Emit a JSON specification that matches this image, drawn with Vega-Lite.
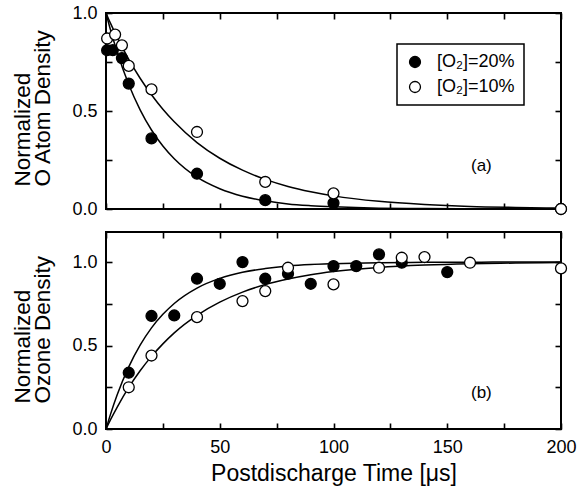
{
  "$schema": "https://vega.github.io/schema/vega-lite/v6.json",
  "padding": {"left": 10, "top": 3, "right": 18, "bottom": 5},
  "spacing": 11,
  "config": {
    "font": "Liberation Sans",
    "view": {"stroke": "black", "strokeWidth": 2},
    "axis": {
      "domain": false, "labelFlush": false, "ticks": true,
      "tickColor": "black", "tickWidth": 1.6, "tickSize": 6, "offset": -6, "tickOpacity": 1,
      "labelFontSize": 18, "labelColor": "black", "labelFont": "Liberation Sans",
      "titleFontSize": 22.5, "titleFontWeight": "normal", "titleColor": "black", "titleFont": "Liberation Sans",
      "grid": false, "labelPadding": 9
    },
    "legend": {
      "orient": "none", "legendX": 291, "legendY": 31,
      "strokeColor": "black", "strokeWidth": 1.5, "padding": 9, "rowPadding": 7,
      "labelFontSize": 18, "labelColor": "black", "labelFont": "Liberation Sans", "labelOffset": 13,
      "symbolType": "circle", "symbolSize": 120, "symbolStrokeColor": "black", "symbolStrokeWidth": 1.3
    }
  },
  "datasets": {
    "oPoints": [
      {"series": "[O₂]=20%", "t": 0.5, "v": 0.81},
      {"series": "[O₂]=20%", "t": 3, "v": 0.81},
      {"series": "[O₂]=20%", "t": 7, "v": 0.77},
      {"series": "[O₂]=20%", "t": 10, "v": 0.64},
      {"series": "[O₂]=20%", "t": 20, "v": 0.36},
      {"series": "[O₂]=20%", "t": 40, "v": 0.18},
      {"series": "[O₂]=20%", "t": 70, "v": 0.045},
      {"series": "[O₂]=20%", "t": 100, "v": 0.03},
      {"series": "[O₂]=20%", "t": 200, "v": 0.0},
      {"series": "[O₂]=10%", "t": 0.5, "v": 0.87},
      {"series": "[O₂]=10%", "t": 4, "v": 0.89},
      {"series": "[O₂]=10%", "t": 7, "v": 0.835},
      {"series": "[O₂]=10%", "t": 10, "v": 0.73},
      {"series": "[O₂]=10%", "t": 20, "v": 0.61},
      {"series": "[O₂]=10%", "t": 40, "v": 0.393},
      {"series": "[O₂]=10%", "t": 70, "v": 0.138},
      {"series": "[O₂]=10%", "t": 100, "v": 0.08},
      {"series": "[O₂]=10%", "t": 200, "v": 0.0}
    ],
    "oCurve": [
      {"series": "20", "t": 0, "v": 1.0},
      {"series": "20", "t": 2, "v": 0.913},
      {"series": "20", "t": 5, "v": 0.797},
      {"series": "20", "t": 10, "v": 0.635},
      {"series": "20", "t": 15, "v": 0.506},
      {"series": "20", "t": 20, "v": 0.403},
      {"series": "20", "t": 25, "v": 0.321},
      {"series": "20", "t": 30, "v": 0.256},
      {"series": "20", "t": 40, "v": 0.162},
      {"series": "20", "t": 50, "v": 0.103},
      {"series": "20", "t": 60, "v": 0.065},
      {"series": "20", "t": 70, "v": 0.042},
      {"series": "20", "t": 80, "v": 0.026},
      {"series": "20", "t": 90, "v": 0.017},
      {"series": "20", "t": 100, "v": 0.011},
      {"series": "20", "t": 120, "v": 0.004},
      {"series": "20", "t": 140, "v": 0.002},
      {"series": "20", "t": 170, "v": 0.0005},
      {"series": "20", "t": 200, "v": 0.0},
      {"series": "10", "t": 0, "v": 1.0},
      {"series": "10", "t": 2, "v": 0.947},
      {"series": "10", "t": 5, "v": 0.874},
      {"series": "10", "t": 10, "v": 0.763},
      {"series": "10", "t": 15, "v": 0.667},
      {"series": "10", "t": 20, "v": 0.583},
      {"series": "10", "t": 25, "v": 0.509},
      {"series": "10", "t": 30, "v": 0.445},
      {"series": "10", "t": 40, "v": 0.339},
      {"series": "10", "t": 50, "v": 0.259},
      {"series": "10", "t": 60, "v": 0.198},
      {"series": "10", "t": 70, "v": 0.151},
      {"series": "10", "t": 80, "v": 0.115},
      {"series": "10", "t": 90, "v": 0.088},
      {"series": "10", "t": 100, "v": 0.067},
      {"series": "10", "t": 120, "v": 0.039},
      {"series": "10", "t": 140, "v": 0.023},
      {"series": "10", "t": 160, "v": 0.013},
      {"series": "10", "t": 180, "v": 0.008},
      {"series": "10", "t": 200, "v": 0.0045}
    ],
    "ozPoints": [
      {"series": "[O₂]=20%", "t": 10, "v": 0.337},
      {"series": "[O₂]=20%", "t": 20, "v": 0.677},
      {"series": "[O₂]=20%", "t": 30, "v": 0.68},
      {"series": "[O₂]=20%", "t": 40, "v": 0.90},
      {"series": "[O₂]=20%", "t": 50, "v": 0.87},
      {"series": "[O₂]=20%", "t": 60, "v": 1.0},
      {"series": "[O₂]=20%", "t": 70, "v": 0.90},
      {"series": "[O₂]=20%", "t": 80, "v": 0.93},
      {"series": "[O₂]=20%", "t": 90, "v": 0.87},
      {"series": "[O₂]=20%", "t": 100, "v": 0.976},
      {"series": "[O₂]=20%", "t": 110, "v": 0.976},
      {"series": "[O₂]=20%", "t": 120, "v": 1.046},
      {"series": "[O₂]=20%", "t": 130, "v": 0.996},
      {"series": "[O₂]=20%", "t": 150, "v": 0.94},
      {"series": "[O₂]=10%", "t": 10, "v": 0.25},
      {"series": "[O₂]=10%", "t": 20, "v": 0.44},
      {"series": "[O₂]=10%", "t": 40, "v": 0.67},
      {"series": "[O₂]=10%", "t": 60, "v": 0.766},
      {"series": "[O₂]=10%", "t": 70, "v": 0.826},
      {"series": "[O₂]=10%", "t": 80, "v": 0.966},
      {"series": "[O₂]=10%", "t": 100, "v": 0.866},
      {"series": "[O₂]=10%", "t": 120, "v": 0.966},
      {"series": "[O₂]=10%", "t": 130, "v": 1.026},
      {"series": "[O₂]=10%", "t": 140, "v": 1.03},
      {"series": "[O₂]=10%", "t": 160, "v": 0.996},
      {"series": "[O₂]=10%", "t": 200, "v": 0.962}
    ],
    "ozCurve": [
      {"series": "20", "t": 0, "v": 0.0},
      {"series": "20", "t": 2, "v": 0.089},
      {"series": "20", "t": 5, "v": 0.208},
      {"series": "20", "t": 10, "v": 0.372},
      {"series": "20", "t": 15, "v": 0.502},
      {"series": "20", "t": 20, "v": 0.606},
      {"series": "20", "t": 25, "v": 0.687},
      {"series": "20", "t": 30, "v": 0.752},
      {"series": "20", "t": 40, "v": 0.844},
      {"series": "20", "t": 50, "v": 0.902},
      {"series": "20", "t": 60, "v": 0.939},
      {"series": "20", "t": 70, "v": 0.961},
      {"series": "20", "t": 80, "v": 0.976},
      {"series": "20", "t": 90, "v": 0.985},
      {"series": "20", "t": 100, "v": 0.990},
      {"series": "20", "t": 120, "v": 0.996},
      {"series": "20", "t": 140, "v": 0.9985},
      {"series": "20", "t": 170, "v": 0.9996},
      {"series": "20", "t": 200, "v": 1.0},
      {"series": "10", "t": 0, "v": 0.0},
      {"series": "10", "t": 2, "v": 0.056},
      {"series": "10", "t": 5, "v": 0.133},
      {"series": "10", "t": 10, "v": 0.249},
      {"series": "10", "t": 15, "v": 0.349},
      {"series": "10", "t": 20, "v": 0.435},
      {"series": "10", "t": 25, "v": 0.510},
      {"series": "10", "t": 30, "v": 0.576},
      {"series": "10", "t": 40, "v": 0.681},
      {"series": "10", "t": 50, "v": 0.760},
      {"series": "10", "t": 60, "v": 0.820},
      {"series": "10", "t": 70, "v": 0.865},
      {"series": "10", "t": 80, "v": 0.898},
      {"series": "10", "t": 90, "v": 0.924},
      {"series": "10", "t": 100, "v": 0.943},
      {"series": "10", "t": 120, "v": 0.968},
      {"series": "10", "t": 140, "v": 0.982},
      {"series": "10", "t": 160, "v": 0.990},
      {"series": "10", "t": 180, "v": 0.994},
      {"series": "10", "t": 200, "v": 0.997}
    ]
  },
  "vconcat": [
    {
      "width": 455, "height": 196,
      "layer": [
        {
          "data": {"name": "oCurve"},
          "mark": {"type": "line", "color": "black", "strokeWidth": 1.5, "interpolate": "monotone"},
          "encoding": {
            "x": {"field": "t", "type": "quantitative", "scale": {"domain": [0, 200], "nice": false, "zero": false},
                  "axis": {"orient": "bottom", "values": [0,25,50,75,100,125,150,175,200], "labels": false, "title": null}},
            "y": {"field": "v", "type": "quantitative", "scale": {"domain": [0, 1], "nice": false, "zero": false},
                  "axis": {"orient": "left", "values": [0,0.25,0.5,0.75,1], "labelExpr": "datum.value % 0.5 === 0 ? format(datum.value, '.1f') : ''",
                           "title": ["Normalized", "O Atom Density"], "titleAlign": "left", "titleY": 173, "titleLineHeight": 20, "titlePadding": 17}},
            "detail": {"field": "series"}
          }
        },
        {
          "data": {"name": "oPoints"},
          "mark": {"type": "point", "shape": "circle", "filled": true, "size": 120, "stroke": "black", "strokeWidth": 1.3, "opacity": 1},
          "encoding": {
            "x": {"field": "t", "type": "quantitative", "scale": {"domain": [0, 200], "nice": false, "zero": false},
                  "axis": {"orient": "top", "values": [0,25,50,75,100,125,150,175,200], "labels": false, "title": null}},
            "y": {"field": "v", "type": "quantitative", "scale": {"domain": [0, 1], "nice": false, "zero": false},
                  "axis": {"orient": "right", "values": [0,0.25,0.5,0.75,1], "labels": false, "title": null}},
            "fill": {"field": "series", "type": "nominal",
                     "scale": {"domain": ["[O₂]=20%", "[O₂]=10%"], "range": ["black", "white"]},
                     "legend": {"title": null}}
          }
        },
        {
          "data": {"values": [{"t": 165, "v": 0.219, "label": "(a)"}]},
          "mark": {"type": "text", "fontSize": 17, "color": "black"},
          "encoding": {
            "x": {"field": "t", "type": "quantitative", "scale": {"domain": [0, 200], "nice": false, "zero": false}, "axis": null},
            "y": {"field": "v", "type": "quantitative", "scale": {"domain": [0, 1], "nice": false, "zero": false}, "axis": null},
            "text": {"field": "label"}
          }
        }
      ],
      "resolve": {"scale": {"x": "independent", "y": "independent"}, "axis": {"x": "independent", "y": "independent"}}
    },
    {
      "width": 455, "height": 197,
      "layer": [
        {
          "data": {"name": "ozCurve"},
          "mark": {"type": "line", "color": "black", "strokeWidth": 1.5, "interpolate": "monotone"},
          "encoding": {
            "x": {"field": "t", "type": "quantitative", "scale": {"domain": [0, 200], "nice": false, "zero": false},
                  "axis": {"orient": "bottom", "values": [0,25,50,75,100,125,150,175,200], "labelExpr": "datum.value % 50 === 0 ? datum.label : ''",
                           "title": "Postdischarge Time [μs]", "titleFontSize": 23, "titlePadding": 6}},
            "y": {"field": "v", "type": "quantitative", "scale": {"domain": [0, 1.18], "nice": false, "zero": false},
                  "axis": {"orient": "left", "values": [0,0.25,0.5,0.75,1], "labelExpr": "datum.value % 0.5 === 0 ? format(datum.value, '.1f') : ''",
                           "title": ["Normalized", "Ozone Density"], "titleAlign": "left", "titleY": 171, "titleLineHeight": 20, "titlePadding": 17}},
            "detail": {"field": "series"}
          }
        },
        {
          "data": {"name": "ozPoints"},
          "mark": {"type": "point", "shape": "circle", "filled": true, "size": 120, "stroke": "black", "strokeWidth": 1.3, "opacity": 1},
          "encoding": {
            "x": {"field": "t", "type": "quantitative", "scale": {"domain": [0, 200], "nice": false, "zero": false},
                  "axis": {"orient": "top", "values": [0,25,50,75,100,125,150,175,200], "labels": false, "title": null}},
            "y": {"field": "v", "type": "quantitative", "scale": {"domain": [0, 1.18], "nice": false, "zero": false},
                  "axis": {"orient": "right", "values": [0,0.25,0.5,0.75,1], "labels": false, "title": null}},
            "fill": {"field": "series", "type": "nominal",
                     "scale": {"domain": ["[O₂]=20%", "[O₂]=10%"], "range": ["black", "white"]},
                     "legend": null}
          }
        },
        {
          "data": {"values": [{"t": 165, "v": 0.217, "label": "(b)"}]},
          "mark": {"type": "text", "fontSize": 17, "color": "black"},
          "encoding": {
            "x": {"field": "t", "type": "quantitative", "scale": {"domain": [0, 200], "nice": false, "zero": false}, "axis": null},
            "y": {"field": "v", "type": "quantitative", "scale": {"domain": [0, 1.18], "nice": false, "zero": false}, "axis": null},
            "text": {"field": "label"}
          }
        }
      ],
      "resolve": {"scale": {"x": "independent", "y": "independent"}, "axis": {"x": "independent", "y": "independent"}}
    }
  ],
  "resolve": {"scale": {"fill": "independent"}}
}
